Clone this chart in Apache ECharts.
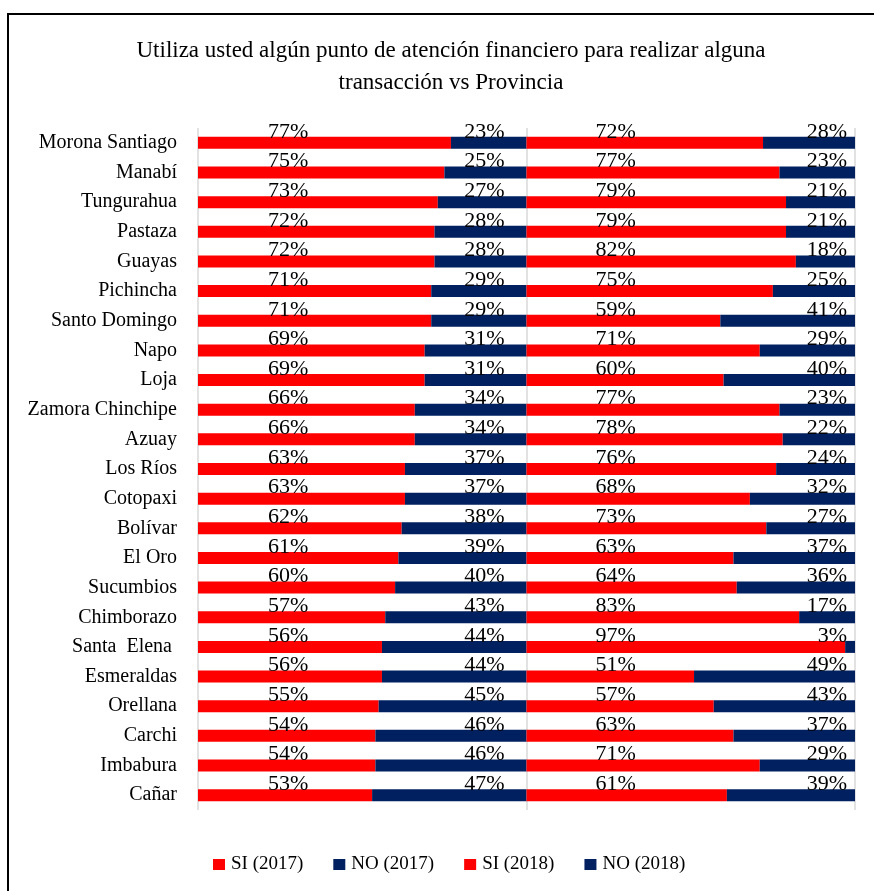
<!DOCTYPE html>
<html>
<head>
<meta charset="utf-8">
<script src="https://cdn.jsdelivr.net/npm/echarts@6/dist/echarts.min.js"></script>
<style>
  html, body { margin: 0; padding: 0; background: #ffffff; }
  #chart { width: 874px; height: 891px; }
</style>
</head>
<body>
<div id="chart"></div>
<script>
// Provinces, top to bottom
const provincias = [
  'Morona Santiago', 'Manabí', 'Tungurahua', 'Pastaza', 'Guayas', 'Pichincha',
  'Santo Domingo', 'Napo', 'Loja', 'Zamora Chinchipe', 'Azuay', 'Los Ríos',
  'Cotopaxi', 'Bolívar', 'El Oro', 'Sucumbios', 'Chimborazo', 'Santa  Elena ',
  'Esmeraldas', 'Orellana', 'Carchi', 'Imbabura', 'Cañar'
];

// Share of respondents (%) per province and year
const si2017 = [77, 75, 73, 72, 72, 71, 71, 69, 69, 66, 66, 63, 63, 62, 61, 60, 57, 56, 56, 55, 54, 54, 53];
const no2017 = [23, 25, 27, 28, 28, 29, 29, 31, 31, 34, 34, 37, 37, 38, 39, 40, 43, 44, 44, 45, 46, 46, 47];
const si2018 = [72, 77, 79, 79, 82, 75, 59, 71, 60, 77, 78, 76, 68, 73, 63, 64, 83, 97, 51, 57, 63, 71, 61];
const no2018 = [28, 23, 21, 21, 18, 25, 41, 29, 40, 23, 22, 24, 32, 27, 37, 36, 17, 3, 49, 43, 37, 29, 39];

const seriesNames = ['SI (2017)', 'NO (2017)', 'SI (2018)', 'NO (2018)'];

const FONT = 'Liberation Serif';
const RED = '#ff0000';
const NAVY = '#002060';

function labelCfg(position, offset) {
  return {
    show: true,
    position: position,
    offset: offset,
    formatter: '{c}%',
    color: '#000000',
    fontFamily: FONT,
    fontSize: 22
  };
}

function barSeries(name, data, color, position, offset) {
  return {
    name: name,
    type: 'bar',
    stack: 'total',
    data: data,
    barWidth: 12,
    itemStyle: { color: color },
    label: labelCfg(position, offset),
    emphasis: { disabled: true }
  };
}

const chart = echarts.init(document.getElementById('chart'), null, { renderer: 'canvas' });

chart.setOption({
  animation: false,
  backgroundColor: '#ffffff',
  title: {
    text: 'Utiliza usted algún punto de atención financiero para realizar alguna\ntransacción vs Provincia',
    left: 446,
    textAlign: 'center',
    top: 30,
    textStyle: {
      fontFamily: FONT,
      fontSize: 23,
      fontWeight: 'normal',
      color: '#000000',
      lineHeight: 32
    }
  },
  legend: {
    data: seriesNames,
    top: 850,
    left: 208,
    itemWidth: 12,
    itemHeight: 11,
    itemGap: 30,
    icon: 'rect',
    textStyle: { fontFamily: FONT, fontSize: 19, color: '#000000', padding: [0, 0, 0, 1] }
  },
  grid: { left: 198, right: 19, top: 128, bottom: 81, containLabel: false },
  xAxis: {
    type: 'value',
    min: 0,
    max: 200,
    interval: 100,
    axisLabel: { show: false },
    axisLine: { show: false },
    axisTick: { show: false },
    splitLine: { show: true, lineStyle: { color: '#d9d9d9', width: 1.5 } }
  },
  yAxis: {
    type: 'category',
    data: provincias,
    inverse: true,
    axisLine: { show: false },
    axisTick: { show: false },
    axisLabel: {
      fontFamily: FONT,
      fontSize: 20,
      color: '#000000',
      margin: 21
    }
  },
  series: [
    barSeries(seriesNames[0], si2017, RED, 'insideLeft', [65, -11]),
    barSeries(seriesNames[1], no2017, NAVY, 'insideRight', [-17, -11]),
    barSeries(seriesNames[2], si2018, RED, 'insideLeft', [64, -11]),
    barSeries(seriesNames[3], no2018, NAVY, 'insideRight', [-3, -11])
  ],
  graphic: [{
    type: 'rect',
    silent: true,
    shape: { x: 8, y: 14, width: 900, height: 900 },
    style: { fill: 'none', stroke: '#000000', lineWidth: 2 }
  }]
});
</script>
</body>
</html>
